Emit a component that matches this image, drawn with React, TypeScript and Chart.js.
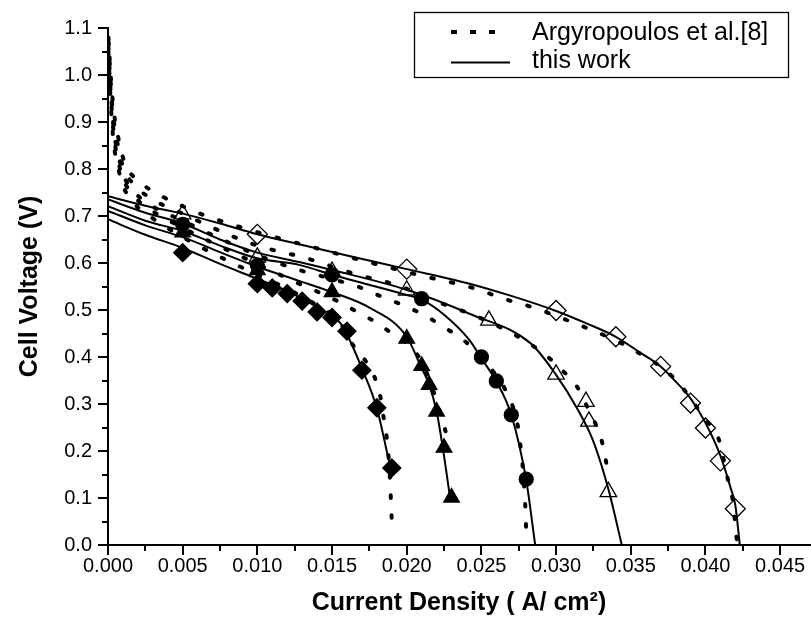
import React, { useEffect, useRef } from 'react';
import { Chart, registerables } from 'chart.js';

Chart.register(...registerables);

const FONT = "'Liberation Sans', Arial, Helvetica, sans-serif";

// ---- axis ticks ----
const X_MIN = 0;
const X_MAX = 0.047;
const X_STEP = 0.005;
const Y_MIN = 0;
const Y_MAX = 1.1;
const Y_STEP = 0.1;

// ---- legend ----
const legendLabels = ['Argyropoulos et al.[8]', 'this work'];
const xTitle = 'Current Density ( A/ cm\u00B2)';
const yTitle = 'Cell Voltage (V)';

// ---- experimental points (markers) ----
const openDiamondX = [0.010, 0.020, 0.030, 0.034, 0.037, 0.039, 0.040, 0.041, 0.042];
const openDiamondY = [0.661, 0.587, 0.499, 0.443, 0.380, 0.302, 0.249, 0.179, 0.077];
const openTriangleX = [0.005, 0.010, 0.015, 0.020, 0.0255, 0.030, 0.032, 0.0322, 0.0335];
const openTriangleY = [0.704, 0.612, 0.582, 0.542, 0.478, 0.363, 0.305, 0.263, 0.113];
const circleX = [0.005, 0.010, 0.015, 0.021, 0.025, 0.026, 0.027, 0.028];
const circleY = [0.682, 0.595, 0.575, 0.524, 0.400, 0.349, 0.277, 0.140];
const triangleX = [0.005, 0.010, 0.015, 0.020, 0.021, 0.0215, 0.022, 0.0225, 0.023];
const triangleY = [0.665, 0.585, 0.538, 0.439, 0.381, 0.341, 0.284, 0.207, 0.101];
const diamondX = [0.005, 0.010, 0.011, 0.012, 0.013, 0.014, 0.015, 0.016, 0.017, 0.018, 0.019];
const diamondY = [0.622, 0.556, 0.547, 0.535, 0.519, 0.496, 0.484, 0.455, 0.372, 0.292, 0.164];

// ---- this work (solid curves) ----
const solidAX = [0, 0.0025, 0.005, 0.0075, 0.010, 0.0128, 0.016, 0.020, 0.0242, 0.027, 0.030, 0.032, 0.034, 0.0356, 0.037, 0.038, 0.039, 0.040, 0.041, 0.0417, 0.042, 0.0423];
const solidAY = [0.742, 0.722, 0.705, 0.684, 0.661, 0.640, 0.616, 0.587, 0.556, 0.530, 0.498, 0.472, 0.443, 0.410, 0.380, 0.348, 0.312, 0.260, 0.190, 0.120, 0.085, 0.0];
const solidBX = [0, 0.0025, 0.005, 0.0075, 0.010, 0.0128, 0.015, 0.020, 0.0242, 0.0283, 0.030, 0.0314, 0.0325, 0.0335, 0.0344];
const solidBY = [0.735, 0.707, 0.684, 0.650, 0.622, 0.602, 0.585, 0.543, 0.492, 0.429, 0.362, 0.291, 0.220, 0.119, 0.0];
const solidCX = [0, 0.0025, 0.005, 0.0075, 0.010, 0.0128, 0.015, 0.020, 0.021, 0.0225, 0.0242, 0.025, 0.026, 0.027, 0.028, 0.0286];
const solidCY = [0.721, 0.690, 0.668, 0.637, 0.610, 0.596, 0.575, 0.532, 0.522, 0.490, 0.436, 0.397, 0.348, 0.277, 0.138, 0.0];
const solidDX = [0, 0.0025, 0.005, 0.0075, 0.010, 0.0128, 0.015, 0.0175, 0.020, 0.0209, 0.0215, 0.022, 0.0224, 0.0229];
const solidDY = [0.711, 0.680, 0.655, 0.623, 0.592, 0.562, 0.538, 0.505, 0.443, 0.383, 0.341, 0.284, 0.210, 0.101];
const solidEX = [0, 0.0025, 0.005, 0.0075, 0.010, 0.012, 0.014, 0.0155, 0.016, 0.017, 0.018, 0.0189];
const solidEY = [0.693, 0.660, 0.632, 0.598, 0.566, 0.540, 0.506, 0.474, 0.448, 0.376, 0.291, 0.165];

// ---- Argyropoulos et al. (dotted curves) ----
const dotAX = [0.00003, 0.0002, 0.0004, 0.0007, 0.0011, 0.0022, 0.0036, 0.005, 0.0064, 0.0077, 0.0092, 0.0119, 0.0146, 0.0185, 0.0214, 0.0242, 0.0269, 0.0284, 0.031, 0.0338, 0.0352, 0.0379, 0.040, 0.0409, 0.0415, 0.0418, 0.0421];
const dotAY = [1.08, 0.99, 0.92, 0.865, 0.815, 0.771, 0.742, 0.721, 0.702, 0.688, 0.673, 0.649, 0.626, 0.593, 0.570, 0.549, 0.520, 0.506, 0.475, 0.438, 0.415, 0.355, 0.267, 0.224, 0.140, 0.101, 0.010];
const dotBX = [0.00003, 0.0002, 0.0004, 0.0007, 0.001, 0.0018, 0.003, 0.005, 0.0075, 0.010, 0.0133, 0.016, 0.0173, 0.0187, 0.020, 0.0225, 0.0245, 0.0269, 0.0281, 0.0293, 0.0303, 0.0314, 0.0318, 0.0324, 0.033, 0.0333, 0.0335];
const dotBY = [1.07, 0.97, 0.90, 0.845, 0.805, 0.765, 0.735, 0.705, 0.668, 0.637, 0.610, 0.582, 0.570, 0.559, 0.545, 0.512, 0.489, 0.453, 0.431, 0.404, 0.375, 0.337, 0.312, 0.274, 0.228, 0.186, 0.143];
const dotCX = [0.00003, 0.0002, 0.0004, 0.0007, 0.001, 0.0018, 0.003, 0.005, 0.0075, 0.010, 0.0125, 0.015, 0.0168, 0.0179, 0.019, 0.0202, 0.0213, 0.0224, 0.0236, 0.0247, 0.0257, 0.0266, 0.0275, 0.02765, 0.0278, 0.02788, 0.02795, 0.028];
const dotCY = [1.07, 0.96, 0.88, 0.83, 0.79, 0.75, 0.72, 0.69, 0.652, 0.617, 0.588, 0.566, 0.549, 0.534, 0.520, 0.504, 0.487, 0.465, 0.441, 0.410, 0.373, 0.330, 0.242, 0.200, 0.154, 0.115, 0.073, 0.027];
const dotDX = [0.00003, 0.0002, 0.0004, 0.0007, 0.001, 0.0018, 0.003, 0.005, 0.0075, 0.010, 0.0128, 0.0141, 0.0153, 0.0164, 0.0176, 0.0188, 0.020, 0.021, 0.0218, 0.0226];
const dotDY = [1.06, 0.95, 0.87, 0.815, 0.78, 0.74, 0.71, 0.675, 0.635, 0.598, 0.556, 0.538, 0.520, 0.501, 0.480, 0.455, 0.429, 0.390, 0.327, 0.242];
const dotEX = [0.00003, 0.0002, 0.0004, 0.0007, 0.001, 0.0018, 0.003, 0.005, 0.0075, 0.010, 0.012, 0.014, 0.0155, 0.0163, 0.0173, 0.018, 0.0183, 0.0185, 0.0187, 0.0189, 0.01895, 0.01901];
const dotEY = [1.05, 0.93, 0.85, 0.80, 0.765, 0.725, 0.695, 0.655, 0.613, 0.575, 0.545, 0.510, 0.475, 0.430, 0.389, 0.344, 0.305, 0.260, 0.217, 0.129, 0.087, 0.045];

const pts = (xs: number[], ys: number[]) => xs.map((x, i) => ({ x, y: ys[i] }));

const DOT_DASH = [2.5, 17.5];

const markerSet = (xs: number[], ys: number[], style: string, radius: number, filled: boolean) => ({
  type: 'scatter' as const,
  data: pts(xs, ys),
  showLine: false,
  pointStyle: style,
  pointRadius: radius,
  pointHoverRadius: radius,
  pointBackgroundColor: filled ? '#000' : 'rgba(0,0,0,0)',
  pointBorderColor: '#000',
  pointBorderWidth: 1.3,
});

const solidSet = (xs: number[], ys: number[]) => ({
  type: 'line' as const,
  data: pts(xs, ys),
  borderColor: '#000',
  borderWidth: 2,
  pointRadius: 0,
  fill: false,
  cubicInterpolationMode: 'monotone' as const,
});

const dotSet = (xs: number[], ys: number[]) => ({
  type: 'line' as const,
  data: pts(xs, ys),
  borderColor: '#000',
  borderWidth: 4,
  borderDash: DOT_DASH,
  borderCapStyle: 'round' as const,
  pointRadius: 0,
  fill: false,
  cubicInterpolationMode: 'monotone' as const,
});

const axisTicksPlugin = {
  id: 'axisTicks',
  afterDraw(chart: any) {
    const { ctx, chartArea, scales } = chart;
    const xs = scales.x;
    const ys = scales.y;
    ctx.save();
    ctx.strokeStyle = '#000';
    ctx.lineWidth = 2;
    const line = (x1: number, y1: number, x2: number, y2: number) => {
      ctx.beginPath();
      ctx.moveTo(x1, y1);
      ctx.lineTo(x2, y2);
      ctx.stroke();
    };
    const xv = xs.ticks.map((t: any) => t.value);
    const drawX = (v: number, len: number) => {
      const p = Math.round(xs.getPixelForValue(v));
      line(p, chartArea.bottom, p, chartArea.bottom + len);
    };
    xv.forEach((v: number) => drawX(v, 10));
    for (let i = 0; i < xv.length - 1; i++) drawX((xv[i] + xv[i + 1]) / 2, 6);
    const yv = ys.ticks.map((t: any) => t.value);
    const drawY = (v: number, len: number) => {
      const p = Math.round(ys.getPixelForValue(v));
      line(chartArea.left, p, chartArea.left - len, p);
    };
    yv.forEach((v: number) => drawY(v, 10));
    for (let i = 0; i < yv.length - 1; i++) drawY((yv[i] + yv[i + 1]) / 2, 6);
    ctx.restore();
  },
};

const boxLegendPlugin = {
  id: 'boxLegend',
  afterDraw(chart: any) {
    const { ctx, chartArea } = chart;
    const right = chartArea.right - 22;
    const left = right - 374;
    const top = 12.5;
    const h = 65;
    ctx.save();
    ctx.strokeStyle = '#000';
    ctx.lineWidth = 1.3;
    ctx.strokeRect(Math.round(left) + 0.5, top, 374, h);
    const row1 = top + h * 0.3;
    const row2 = top + h * 0.77;
    // dotted sample
    ctx.lineWidth = 4;
    ctx.setLineDash([6, 13]);
    ctx.beginPath();
    ctx.moveTo(left + 37, row1);
    ctx.lineTo(left + 84, row1);
    ctx.stroke();
    // solid sample
    ctx.setLineDash([]);
    ctx.lineWidth = 2;
    ctx.beginPath();
    ctx.moveTo(left + 37, row2);
    ctx.lineTo(left + 96, row2);
    ctx.stroke();
    ctx.fillStyle = '#000';
    ctx.font = `25px ${FONT}`;
    ctx.textBaseline = 'middle';
    ctx.textAlign = 'left';
    ctx.fillText(legendLabels[0], left + 118, row1 + 1);
    ctx.fillText(legendLabels[1], left + 118, row2 - 1);
    ctx.restore();
  },
};

export default function App() {
  const canvasRef = useRef<HTMLCanvasElement | null>(null);

  useEffect(() => {
    document.body.style.margin = '0';
    const canvas = canvasRef.current;
    if (!canvas) return;
    Chart.defaults.font.family = FONT;
    const chart = new Chart(canvas, {
      type: 'line',
      data: {
        datasets: [
          markerSet(openDiamondX, openDiamondY, 'rectRot', 10, false),
          markerSet(openTriangleX, openTriangleY, 'triangle', 9.5, false),
          markerSet(circleX, circleY, 'circle', 7, true),
          markerSet(triangleX, triangleY, 'triangle', 9, true),
          markerSet(diamondX, diamondY, 'rectRot', 9, true),
          solidSet(solidAX, solidAY),
          solidSet(solidBX, solidBY),
          solidSet(solidCX, solidCY),
          solidSet(solidDX, solidDY),
          solidSet(solidEX, solidEY),
          dotSet(dotAX, dotAY),
          dotSet(dotBX, dotBY),
          dotSet(dotCX, dotCY),
          dotSet(dotDX, dotDY),
          dotSet(dotEX, dotEY),
        ] as any,
      },
      options: {
        responsive: false,
        animation: false,
        devicePixelRatio: 1,
        layout: { autoPadding: false, padding: { top: 24, right: 1, left: 0, bottom: 0 } },
        plugins: {
          legend: { display: false },
          tooltip: { enabled: false },
        },
        scales: {
          x: {
            type: 'linear',
            min: X_MIN,
            max: X_MAX,
            grid: { display: true, drawOnChartArea: false, drawTicks: false },
            border: { display: true, color: '#000', width: 2 },
            ticks: {
              stepSize: X_STEP,
              includeBounds: false,
              autoSkip: false,
              maxRotation: 0,
              color: '#000',
              font: { size: 20, family: FONT },
              padding: 9,
              callback: (v: any) => Number(v).toFixed(3),
            },
            title: {
              display: true,
              text: xTitle,
              color: '#000',
              font: { size: 25, weight: 'bold', family: FONT },
              padding: { top: 0, bottom: 0 },
            },
            afterFit: (scale: any) => {
              scale.height = 73;
              scale.paddingLeft = 0;
              scale.paddingRight = 0;
            },
          },
          y: {
            type: 'linear',
            min: Y_MIN,
            max: Y_MAX,
            grid: { display: true, drawOnChartArea: false, drawTicks: false },
            border: { display: true, color: '#000', width: 2 },
            ticks: {
              stepSize: Y_STEP,
              includeBounds: false,
              autoSkip: false,
              color: '#000',
              font: { size: 20, family: FONT },
              padding: 16,
              callback: (v: any) => Number(v).toFixed(1),
            },
            title: {
              display: true,
              text: yTitle,
              color: '#000',
              font: { size: 25, weight: 'bold', family: FONT },
              padding: { top: 15, bottom: 0 },
            },
            afterFit: (scale: any) => {
              scale.width = 108;
            },
          },
        },
      } as any,
      plugins: [axisTicksPlugin, boxLegendPlugin],
    });
    return () => chart.destroy();
  }, []);

  return (
    <div style={{ width: 811, height: 618, background: '#fff' }}>
      <canvas ref={canvasRef} width={811} height={618} style={{ display: 'block' }} />
    </div>
  );
}
